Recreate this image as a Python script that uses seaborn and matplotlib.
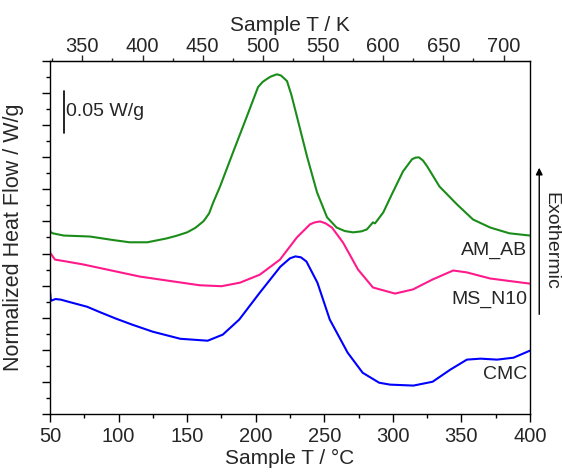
import seaborn as sns
import matplotlib.pyplot as plt
import pandas as pd
from matplotlib.ticker import MultipleLocator, FixedLocator

# temperature (°C) and heat flow (arbitrary units, one major tick = 1)
am_ab_t = [50, 50.6, 52, 60, 79, 96, 108, 121, 135, 142, 150, 156, 162, 166,
           169, 174, 183.5, 193.6, 201.7, 205, 208, 211, 215.5, 218.5, 222.8,
           226, 230, 237.4, 244.7, 252, 259, 265, 271, 277, 281, 285.5, 287,
           293, 300, 307.4, 314, 316.5, 319, 322, 325, 334, 346.8, 358.5, 371,
           385, 400]
am_ab_y = [5.72, 5.66, 5.63, 5.56, 5.53, 5.42, 5.35, 5.35, 5.47, 5.55, 5.66,
           5.80, 6.01, 6.25, 6.59, 7.09, 8.16, 9.28, 10.19, 10.35, 10.44,
           10.52, 10.59, 10.55, 10.38, 9.95, 9.28, 8.03, 6.91, 6.13, 5.81,
           5.70, 5.66, 5.69, 5.75, 5.97, 5.94, 6.28, 6.91, 7.56, 7.94, 7.99,
           8.00, 7.90, 7.72, 7.09, 6.53, 6.06, 5.81, 5.63, 5.56]

ms_n10_t = [50, 53.6, 62, 74, 91.5, 115.6, 139.7, 159, 175, 188.5, 203, 217.7,
            230, 239.6, 243, 247, 251, 255.6, 263.7, 274.6, 285.5, 301.6,
            314.7, 329, 344, 354, 371, 400]
ms_n10_y = [5.03, 4.81, 4.75, 4.66, 4.50, 4.28, 4.13, 4.01, 3.98, 4.09, 4.34,
            4.81, 5.50, 5.91, 5.97, 6.00, 5.94, 5.81, 5.34, 4.50, 3.94, 3.75,
            3.88, 4.19, 4.47, 4.41, 4.22, 4.06]

cmc_t = [50, 50.6, 51, 54, 58, 63, 77, 87, 98, 110, 125, 145, 165, 176, 188,
         203, 218, 225, 229, 233, 237, 245, 254, 267, 278, 290, 298, 315, 329,
         342, 354, 364, 376, 388, 400]
cmc_y = [3.81, 3.53, 3.53, 3.58, 3.56, 3.50, 3.34, 3.16, 2.97, 2.78, 2.56,
         2.34, 2.28, 2.47, 2.94, 3.78, 4.59, 4.85, 4.91, 4.88, 4.75, 4.09,
         2.94, 1.91, 1.28, 0.97, 0.91, 0.88, 1.00, 1.38, 1.69, 1.72, 1.69,
         1.75, 1.97]

names = ['AM_AB', 'MS_N10', 'CMC']
colors = ['#1a8c1a', '#ff1a8c', '#0000ff']
label_y = [5.09, 3.56, 1.23]

# top axis (sample T in K) against the bottom axis in °C
k_at_50 = 323.1
k_per_c = 1.1396
k_ticks = [350, 400, 450, 500, 550, 600, 650, 700]
k_minor = [325, 375, 425, 475, 525, 575, 625, 675]

df = pd.concat([
    pd.DataFrame({'T': am_ab_t, 'HF': am_ab_y, 'sample': 'AM_AB'}),
    pd.DataFrame({'T': ms_n10_t, 'HF': ms_n10_y, 'sample': 'MS_N10'}),
    pd.DataFrame({'T': cmc_t, 'HF': cmc_y, 'sample': 'CMC'}),
])

sns.set_style('ticks')
plt.rcParams['font.family'] = ['Liberation Sans', 'DejaVu Sans']

fig = plt.figure(figsize=(5.62, 4.74), dpi=100)
ax = fig.add_axes([0.089, 0.127, 0.854, 0.744])
sns.lineplot(data=df, x='T', y='HF', hue='sample', palette=dict(zip(names, colors)),
             sort=False, estimator=None, linewidth=1.5, legend=False, ax=ax)

ax.set_xlim(50, 400)
ax.set_ylim(0, 11)
ax.xaxis.set_major_locator(MultipleLocator(50))
ax.xaxis.set_minor_locator(MultipleLocator(25))
ax.yaxis.set_major_locator(MultipleLocator(1))
ax.yaxis.set_minor_locator(MultipleLocator(0.5))
ax.set_yticklabels([])
ax.tick_params(axis='both', which='major', direction='out', length=6, width=1,
               labelsize=14.5, color='black')
ax.tick_params(axis='both', which='minor', direction='out', length=3, width=1,
               color='black')
ax.set_xlabel('Sample T / °C', fontsize=15, labelpad=2)
ax.set_ylabel('Normalized Heat Flow / W/g', fontsize=15.5, labelpad=9)
for s in ax.spines.values():
    s.set_color('black')
    s.set_linewidth(1)

top = ax.secondary_xaxis('top', functions=(lambda c: k_at_50 + (c - 50) * k_per_c,
                                           lambda k: 50 + (k - k_at_50) / k_per_c))
top.xaxis.set_major_locator(FixedLocator(k_ticks))
top.xaxis.set_minor_locator(FixedLocator(k_minor))
top.tick_params(which='major', direction='out', length=4, width=1, labelsize=14.5, pad=0)
top.tick_params(which='minor', direction='out', length=2.5, width=1)
top.set_xlabel('Sample T / K', fontsize=15, labelpad=4)

for name, yy in zip(names, label_y):
    ax.text(398, yy, name, fontsize=14, ha='right', va='center')

# scale bar 0.05 W/g
ax.plot([60, 60], [8.75, 10.06], color='black', linewidth=1.2)
ax.text(61.5, 9.42, '0.05 W/g', fontsize=14, ha='left', va='center')

# exothermic arrow
ax.annotate('', xy=(0.9595, 0.652), xytext=(0.9595, 0.331), xycoords='figure fraction',
            arrowprops=dict(arrowstyle='-|>', color='black', lw=1, mutation_scale=10))
fig.text(0.981, 0.491, 'Exothermic', rotation=-90, fontsize=14, ha='center', va='center')

fig.savefig('out.png', dpi=100)
